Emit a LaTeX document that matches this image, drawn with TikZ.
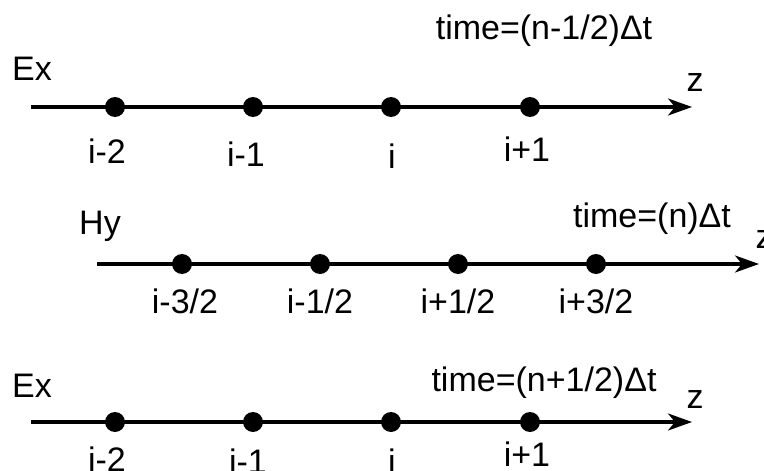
\documentclass[tikz,border=0pt]{standalone}
\usepackage{fontspec}
\setmainfont{Liberation Sans}
\usetikzlibrary{arrows.meta}
\begin{document}
\begin{tikzpicture}[x=1pt,y=-1pt,
  lbl/.style={inner sep=0pt,font=\fontsize{34}{38}\selectfont},
  dot/.style={circle,fill=black,inner sep=0pt,minimum width=19pt,minimum height=20pt},
  axis/.style={line width=3.1pt,-{Stealth[length=24pt,width=17pt,inset=7pt]}}]
\useasboundingbox (0,0) rectangle (764,471);
% axis 1 (Ex, n-1/2)
\coordinate (a1s) at (31,107);
\coordinate (a1e) at (692,107);
\draw[axis] (a1s) -- (a1e);
\node[dot] (e1a) at (115,107) {};
\node[dot] (e1b) at (253,107) {};
\node[dot] (e1c) at (391,107) {};
\node[dot] (e1d) at (530,107) {};
\node[lbl] (ex1) at (32,69) {Ex};
\node[lbl] (z1) at (695,83) {z};
\node[lbl] (t1) at (544,31) {time=(n-1/2)Δt};
\node[lbl] (l1a) at (107,151) {i-2};
\node[lbl] (l1b) at (246,154) {i-1};
\node[lbl] (l1c) at (392,156) {i};
\node[lbl] (l1d) at (527,149) {i+1};
% axis 2 (Hy, n)
\coordinate (a2s) at (97,264);
\coordinate (a2e) at (759,264);
\draw[axis] (a2s) -- (a2e);
\node[dot] (h1) at (182,264) {};
\node[dot] (h2) at (320,264) {};
\node[dot] (h3) at (458,264) {};
\node[dot] (h4) at (596,264) {};
\node[lbl] (hy) at (100,226) {Hy};
\node[lbl] (z2) at (764,240) {z};
\node[lbl] (t2) at (652,219) {time=(n)Δt};
\node[lbl] (l2a) at (185,301) {i-3/2};
\node[lbl] (l2b) at (320,301) {i-1/2};
\node[lbl] (l2c) at (458,301) {i+1/2};
\node[lbl] (l2d) at (596,301) {i+3/2};
% axis 3 (Ex, n+1/2)
\coordinate (a3s) at (31,422);
\coordinate (a3e) at (692,422);
\draw[axis] (a3s) -- (a3e);
\node[dot] (f1a) at (115,422) {};
\node[dot] (f1b) at (253,422) {};
\node[dot] (f1c) at (391,422) {};
\node[dot] (f1d) at (530,422) {};
\node[lbl] (ex3) at (32,386) {Ex};
\node[lbl] (z3) at (695,400) {z};
\node[lbl] (t3) at (544,383) {time=(n+1/2)Δt};
\node[lbl] (l3a) at (107,459) {i-2};
\node[lbl] (l3b) at (248,461) {i-1};
\node[lbl] (l3c) at (392,461) {i};
\node[lbl] (l3d) at (527,454) {i+1};
\end{tikzpicture}
\end{document}
